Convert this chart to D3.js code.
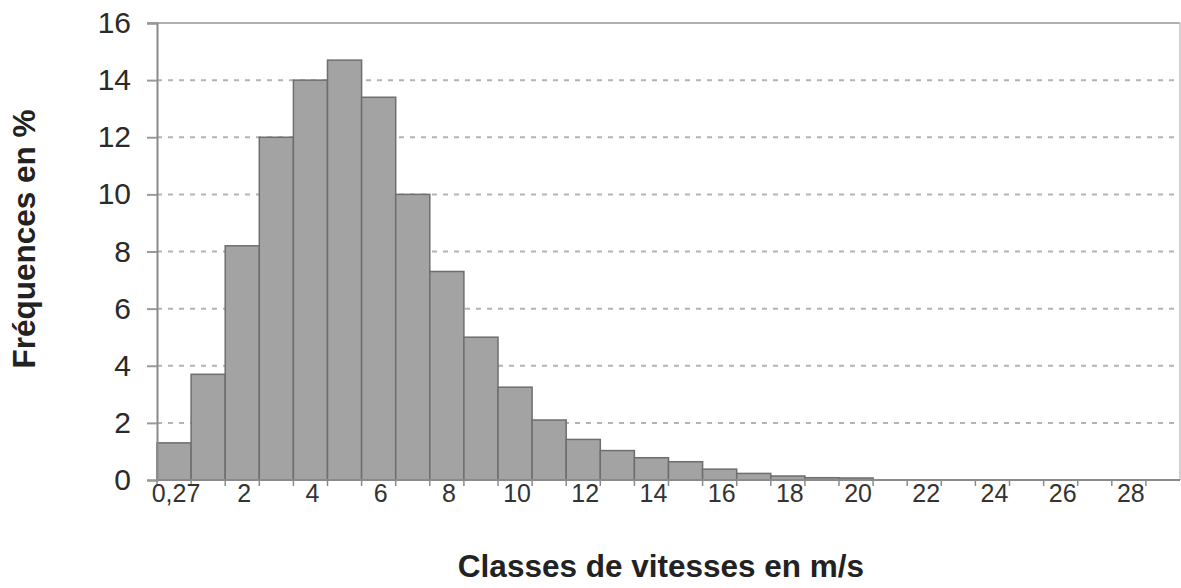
<!DOCTYPE html>
<html>
<head>
<meta charset="utf-8">
<script src="https://cdn.jsdelivr.net/npm/d3@7"></script>
<style>
  body { margin: 0; background: #fff; }
  svg text { font-family: "Liberation Sans", Arial, sans-serif; }
</style>
</head>
<body>
<svg id="chart" width="1181" height="588"></svg>
<script>
// wind speed classes (m/s)
const classes = ['0,27', '1', '2', '3', '4', '5', '6', '7', '8', '9', '10',
  '11', '12', '13', '14', '15', '16', '17', '18', '19', '20',
  '21', '22', '23', '24', '25', '26', '27', '28', '29']

// frequency in % for each class
const frequencies = [1.3, 3.7, 8.2, 12.0, 14.0, 14.7, 13.4, 10.0, 7.3, 5.0, 3.25,
  2.1, 1.42, 1.03, 0.78, 0.64, 0.38, 0.23, 0.14, 0.08, 0.07,
  0, 0, 0, 0, 0, 0, 0, 0, 0]

const yTicks = [0, 2, 4, 6, 8, 10, 12, 14, 16]

const data = classes.map((c, i) => ({ name: c, value: frequencies[i] }))

const margin = { top: 23, right: 1, bottom: 108, left: 157 }
const width = 1181 - margin.left - margin.right
const height = 588 - margin.top - margin.bottom

const svg = d3.select('#chart')
const g = svg.append('g')
    .attr('transform', `translate(${margin.left},${margin.top})`)

const x = d3.scaleBand()
    .domain(classes)
    .range([0, width])
    .padding(0)

const y = d3.scaleLinear()
    .domain([0, 16])
    .range([height, 0])

/**
 * Dashed grid lines
 */
g.append('g')
    .selectAll('line')
    .data(yTicks.filter(d => d > 0 && d < 16))
    .join('line')
    .attr('x1', 0)
    .attr('x2', width)
    .attr('y1', d => y(d))
    .attr('y2', d => y(d))
    .attr('stroke', '#b4b4b4')
    .attr('stroke-width', 2)
    .attr('stroke-dasharray', '5 6')

// frame top / right
g.append('line')
    .attr('x1', -10).attr('x2', width)
    .attr('y1', y(16)).attr('y2', y(16))
    .attr('stroke', '#b0b0b0').attr('stroke-width', 2)
g.append('line')
    .attr('x1', width).attr('x2', width)
    .attr('y1', y(16)).attr('y2', height)
    .attr('stroke', '#c4c4c4').attr('stroke-width', 1.5)

/**
 * Bars
 */
g.append('g')
    .selectAll('rect')
    .data(data.filter(d => d.value > 0))
    .join('rect')
    .attr('x', d => x(d.name))
    .attr('y', d => y(d.value))
    .attr('width', x.bandwidth())
    .attr('height', d => height - y(d.value))
    .attr('fill', '#a3a3a3')
    .attr('stroke', '#6e6e6e')
    .attr('stroke-width', 1.5)

/**
 * Y axis
 */
const yAxis = g.append('g')
    .call(d3.axisLeft(y).tickValues(yTicks).tickSize(10).tickPadding(16).tickFormat(d3.format('d')))
yAxis.select('.domain').attr('stroke', '#8a8a8a').attr('stroke-width', 2)
yAxis.selectAll('.tick line').attr('stroke', '#9a9a9a').attr('stroke-width', 2)
yAxis.selectAll('.tick text')
    .attr('font-size', 30)
    .attr('fill', '#2a2a2a')

/**
 * X axis: ticks at every class boundary, labels on every second class
 */
const xAxis = g.append('g')
    .attr('transform', `translate(0,${height})`)

xAxis.append('line')
    .attr('x1', 0).attr('x2', width)
    .attr('stroke', '#8a8a8a').attr('stroke-width', 2)

xAxis.selectAll('.tick')
    .data(classes)
    .join('line')
    .attr('class', 'tick')
    .attr('x1', d => x(d))
    .attr('x2', d => x(d))
    .attr('y1', 0)
    .attr('y2', 6)
    .attr('stroke', '#8a8a8a')
    .attr('stroke-width', 1.5)

xAxis.selectAll('.label')
    .data(classes.filter((d, i) => i % 2 === 0))
    .join('text')
    .attr('class', 'label')
    .attr('x', d => x(d) + x.bandwidth() / 2 + 2)
    .attr('y', 22)
    .attr('text-anchor', 'middle')
    .attr('font-size', 25)
    .attr('fill', '#333')
    .text(d => d)

/**
 * Axis titles
 */
svg.append('text')
    .attr('x', 661)
    .attr('y', 577)
    .attr('text-anchor', 'middle')
    .attr('font-size', 31.5)
    .attr('font-weight', 'bold')
    .attr('fill', '#222')
    .text('Classes de vitesses en m/s')

svg.append('text')
    .attr('transform', 'translate(35,239) rotate(-90)')
    .attr('text-anchor', 'middle')
    .attr('font-size', 31.5)
    .attr('font-weight', 'bold')
    .attr('fill', '#222')
    .text('Fréquences en %')
</script>
</body>
</html>
